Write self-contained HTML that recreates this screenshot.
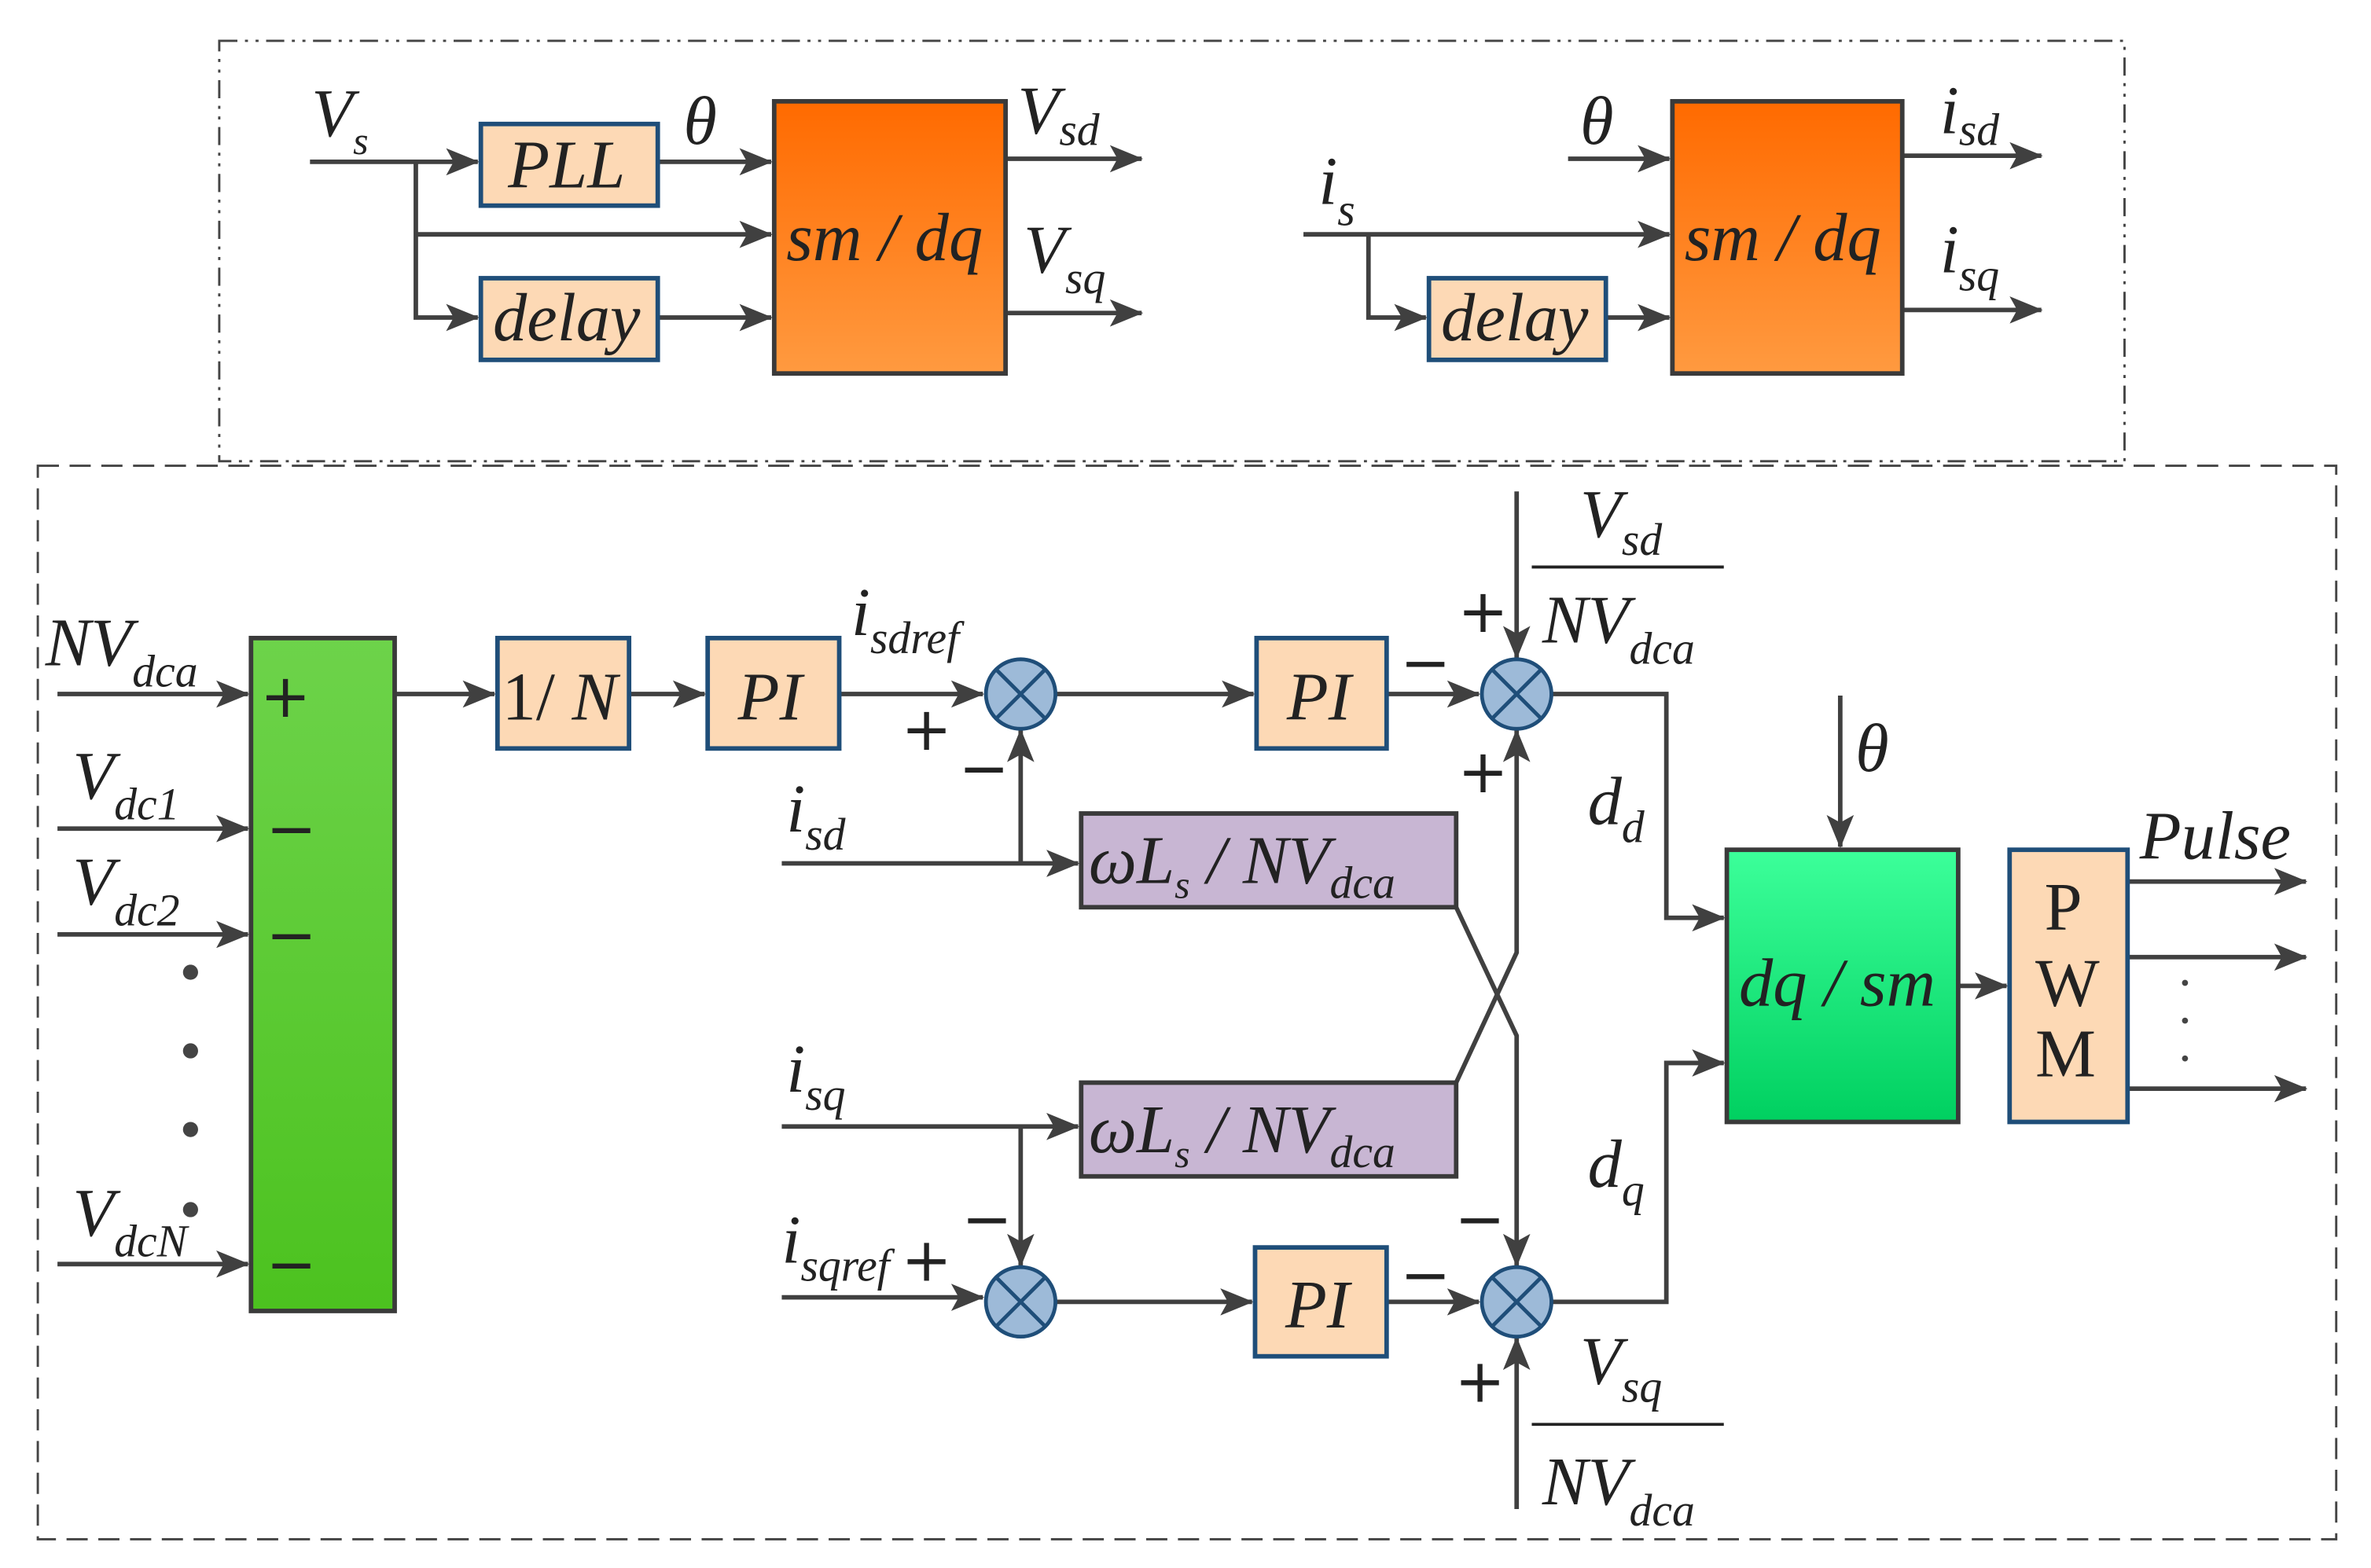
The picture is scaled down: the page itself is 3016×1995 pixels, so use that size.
<!DOCTYPE html>
<html><head><meta charset="utf-8"><style>html,body{margin:0;padding:0;background:#fff}svg{display:block}
text{font-family:"Liberation Serif",serif;font-style:italic;fill:#222}
text.s{font-family:"DejaVu Sans","Liberation Sans",sans-serif;font-style:normal;font-size:40px}
text.u{font-style:normal}</style></head><body>
<svg width="3016" height="1995" viewBox="0 0 1568 1037" preserveAspectRatio="none" xmlns="http://www.w3.org/2000/svg">
<defs>
<linearGradient id="or" x1="0" y1="0" x2="0" y2="1"><stop offset="0" stop-color="#ff6a00"/><stop offset="1" stop-color="#ff9a40"/></linearGradient>
<linearGradient id="gr" x1="0" y1="0" x2="0" y2="1"><stop offset="0" stop-color="#6dd34a"/><stop offset="1" stop-color="#4cc21f"/></linearGradient>
<linearGradient id="gg" x1="0" y1="0" x2="0" y2="1"><stop offset="0" stop-color="#3cff9a"/><stop offset="1" stop-color="#00d060"/></linearGradient>
<marker id="b" markerWidth="22" markerHeight="18" refX="21" refY="9" orient="auto" markerUnits="userSpaceOnUse" viewBox="0 0 22 18"><path d="M0,0 L22,9 L0,18 L5,9 z" fill="#404040"/></marker>
</defs>
<g fill="none" stroke="#444" stroke-width="1.5">
<rect x="145" y="27" width="1260" height="278" stroke-dasharray="12,5,2,5,2,5"/>
<rect x="25" y="308" width="1520" height="710" stroke-dasharray="14,7"/>
</g>
<g stroke="#404040" stroke-width="3" fill="none" marker-end="url(#b)">
<path d="M205,107H316"/><path d="M275,107V210H316"/><path d="M275,155H510"/>
<path d="M435,107H510"/><path d="M435,210H510"/>
<path d="M665,105H755"/><path d="M665,207H755"/>
<path d="M1037,105H1104"/><path d="M862,155H1104"/><path d="M905,155V210H943"/><path d="M1062,210H1104"/>
<path d="M1258,103H1350"/><path d="M1258,205H1350"/>
<path d="M38,459H164"/><path d="M38,548H164"/><path d="M38,618H164"/><path d="M38,836H164"/>
<path d="M261,459H327"/><path d="M416,459H466"/><path d="M555,459H650"/>
<path d="M699,459H829"/><path d="M917,459H978"/>
<path d="M1003,325V435"/>
<path d="M517,571H713"/><path d="M675,571V483"/>
<path d="M517,745H713"/><path d="M675,745V837"/>
<path d="M517,858H650"/>
<path d="M699,861H828"/><path d="M917,861H978"/>
<path d="M1003,998V885"/>
<path d="M963,600L1003,685V837"/>
<path d="M963,716L1003,630V483"/>
<path d="M1027,459H1102V607H1140"/>
<path d="M1027,861H1102V703H1140"/>
<path d="M1217,460V560"/>
<path d="M1295,652H1327"/>
<path d="M1407,583H1525"/><path d="M1407,633H1525"/><path d="M1407,720H1525"/>
</g>
<g stroke="#1f4e79" stroke-width="3">
<rect x="318" y="82" width="117" height="54" fill="#fdd9b5"/>
<rect x="318" y="184" width="117" height="54" fill="#fdd9b5"/>
<rect x="945" y="184" width="117" height="54" fill="#fdd9b5"/>
<rect x="329" y="422" width="87" height="73" fill="#fdd9b5"/>
<rect x="468" y="422" width="87" height="73" fill="#fdd9b5"/>
<rect x="831" y="422" width="86" height="73" fill="#fdd9b5"/>
<rect x="830" y="825" width="87" height="72" fill="#fdd9b5"/>
<rect x="1329" y="562" width="78" height="180" fill="#fdd9b5"/>
</g>
<g stroke="#3a3a3a" stroke-width="3">
<rect x="512" y="67" width="153" height="180" fill="url(#or)"/>
<rect x="1106" y="67" width="152" height="180" fill="url(#or)"/>
<rect x="166" y="422" width="95" height="445" fill="url(#gr)"/>
<rect x="1142" y="562" width="153" height="180" fill="url(#gg)"/>
<rect x="715" y="538" width="248" height="62" fill="#c8b6d3"/>
<rect x="715" y="716" width="248" height="62" fill="#c8b6d3"/>
</g>
<g stroke="#1f4e79" stroke-width="2.5" fill="#9dbad8">
<circle cx="675" cy="459" r="23"/><circle cx="1003" cy="459" r="23"/>
<circle cx="675" cy="861" r="23"/><circle cx="1003" cy="861" r="23"/>
</g>
<g stroke="#1f4e79" stroke-width="2.5">
<path d="M659,443L691,475M691,443L659,475"/><path d="M987,443L1019,475M1019,443L987,475"/>
<path d="M659,845L691,877M691,845L659,877"/><path d="M987,845L1019,877M1019,845L987,877"/>
</g>
<g stroke="#222" stroke-width="2"><path d="M1013,375H1140"/><path d="M1013,942H1140"/></g>
<g fill="#444"><circle cx="126" cy="643" r="5"/><circle cx="126" cy="695" r="5"/><circle cx="126" cy="747" r="5"/><circle cx="126" cy="800" r="5"/>
<circle cx="1445" cy="650" r="2"/><circle cx="1445" cy="675" r="2"/><circle cx="1445" cy="700" r="2"/></g>
<g font-size="45">
<text x="206" y="90">V<tspan font-size="26" dy="12">s</tspan></text>
<text x="336" y="124">PLL</text>
<text x="326" y="225">delay</text>
<text x="953" y="225">delay</text>
<text x="452" y="95">θ</text>
<text x="1045" y="95">θ</text>
<text x="520" y="172">sm / dq</text>
<text x="1114" y="172">sm / dq</text>
<text x="673" y="88">V<tspan font-size="30" dy="8">sd</tspan></text>
<text x="677" y="180">V<tspan font-size="30" dy="14">sq</tspan></text>
<text x="872" y="135">i<tspan font-size="30" dy="14">s</tspan></text>
<text x="1283" y="88">i<tspan font-size="30" dy="8">sd</tspan></text>
<text x="1283" y="180">i<tspan font-size="30" dy="12">sq</tspan></text>
<text x="30" y="440">NV<tspan font-size="30" dy="14">dca</tspan></text>
<text x="48" y="528">V<tspan font-size="30" dy="14">dc1</tspan></text>
<text x="48" y="598">V<tspan font-size="30" dy="14">dc2</tspan></text>
<text x="48" y="817">V<tspan font-size="30" dy="14">dcN</tspan></text>
<text x="332" y="476" class="u">1/ <tspan font-style="italic" style="font-style:italic">N</tspan></text>
<text x="488" y="476">PI</text>
<text x="851" y="476">PI</text>
<text x="850" y="878">PI</text>
<text x="563" y="420">i<tspan font-size="30" dy="12">sdref</tspan></text>
<text x="520" y="550">i<tspan font-size="30" dy="12">sd</tspan></text>
<text x="520" y="722">i<tspan font-size="30" dy="12">sq</tspan></text>
<text x="517" y="835">i<tspan font-size="30" dy="12">sqref</tspan></text>
<text x="720" y="584">ωL<tspan font-size="26" dy="10">s</tspan><tspan dy="-10"> / NV</tspan><tspan font-size="30" dy="10">dca</tspan></text>
<text x="720" y="762">ωL<tspan font-size="26" dy="10">s</tspan><tspan dy="-10"> / NV</tspan><tspan font-size="30" dy="10">dca</tspan></text>
<text x="1045" y="355">V<tspan font-size="30" dy="12">sd</tspan></text>
<text x="1020" y="425">NV<tspan font-size="30" dy="14">dca</tspan></text>
<text x="1045" y="915">V<tspan font-size="30" dy="12">sq</tspan></text>
<text x="1020" y="995">NV<tspan font-size="30" dy="14">dca</tspan></text>
<text x="1050" y="545">d<tspan font-size="30" dy="12">d</tspan></text>
<text x="1050" y="785">d<tspan font-size="30" dy="12">q</tspan></text>
<text x="1227" y="510">θ</text>
<text x="1150" y="665">dq / sm</text>
<text x="1415" y="568">Pulse</text>
<text x="1352" y="615" class="u">P</text>
<text x="1346" y="665" class="u">W</text>
<text x="1346" y="712" class="u">M</text>
</g>
<g>
<text class="s" x="172" y="474">+</text>
<text class="s" x="176" y="562">−</text>
<text class="s" x="176" y="632">−</text>
<text class="s" x="176" y="850">−</text>
<text class="s" x="596" y="496">+</text>
<text class="s" x="634" y="522">−</text>
<text class="s" x="926" y="452">−</text>
<text class="s" x="964" y="418">+</text>
<text class="s" x="964" y="524">+</text>
<text class="s" x="636" y="820">−</text>
<text class="s" x="596" y="847">+</text>
<text class="s" x="926" y="857">−</text>
<text class="s" x="962" y="820">−</text>
<text class="s" x="962" y="927">+</text>
</g>
</svg>
</body></html>
